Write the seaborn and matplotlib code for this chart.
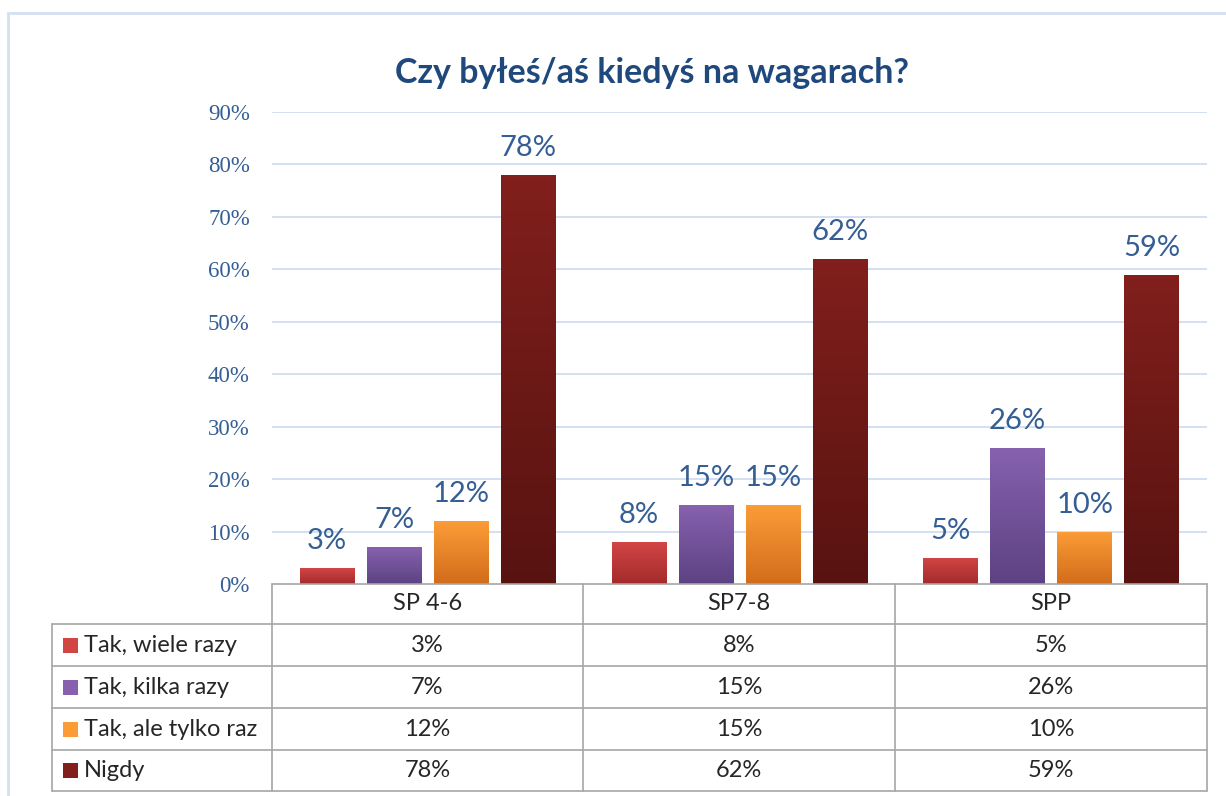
import numpy as np
import pandas as pd
import matplotlib as mpl
mpl.use("Agg")
import matplotlib.pyplot as plt
from matplotlib.colors import LinearSegmentedColormap
import seaborn as sns

# data
groups = ["SP 4-6", "SP7-8", "SPP"]
series = ["Tak, wiele razy", "Tak, kilka razy", "Tak, ale tylko raz", "Nigdy"]
wiele_razy = [3, 8, 5]
kilka_razy = [7, 15, 26]
tylko_raz = [12, 15, 10]
nigdy = [78, 62, 59]
y_ticks = [0, 10, 20, 30, 40, 50, 60, 70, 80, 90]
title = "Czy byłeś/aś kiedyś na wagarach?"

# (top, bottom) gradient colours per series
grad = {
    "Tak, wiele razy": ("#D24545", "#A32B2B"),
    "Tak, kilka razy": ("#8761AE", "#5C4283"),
    "Tak, ale tylko raz": ("#FB9C37", "#D26D1B"),
    "Nigdy": ("#811F1C", "#581311"),
}
navy = "#1F497D"
label_blue = "#345E94"
grid_blue = "#C9DAF0"
table_grey = "#A6A6A6"
text_dark = "#262626"

values = [wiele_razy, kilka_razy, tylko_raz, nigdy]
df = pd.DataFrame(
    [(g, s, v[i]) for s, v in zip(series, values) for i, g in enumerate(groups)],
    columns=["group", "series", "value"],
)

sns.set_theme(style="white")
plt.rcParams["font.family"] = ["Lato", "DejaVu Sans"]

W, H = 1226, 796
fig = plt.figure(figsize=(W / 100, H / 100), dpi=100)


def fx(px):
    return px / W


def fy(py):
    return 1 - py / H


# outer frame of the chart object
fig.add_artist(plt.Rectangle((fx(8), fy(900)), fx(1300), fy(13) - fy(900),
                             transform=fig.transFigure, fill=False,
                             edgecolor="#D3E0F2", lw=2))

left, right, top, bottom = 272, 1207, 112, 584
ax = fig.add_axes([fx(left), fy(bottom), fx(right - left), fy(top) - fy(bottom)])

sns.barplot(data=df, x="group", y="value", hue="series", order=groups,
            hue_order=series, palette={s: grad[s][1] for s in series},
            width=0.86, gap=0.18, ax=ax, legend=False, saturation=1)

ax.set_ylim(0, 90)
ax.set_xlim(-0.5, len(groups) - 0.5)
ax.set_yticks(y_ticks)
ax.set_yticklabels([f"{t}%" for t in y_ticks], family=["Liberation Serif"],
                   fontsize=16.5, color=label_blue)
ax.tick_params(axis="y", length=0, pad=16)
ax.set_xticks([])
ax.set_xlabel("")
ax.set_ylabel("")
for sp in ax.spines.values():
    sp.set_visible(False)
for t in y_ticks[1:]:
    ax.axhline(t, color=grid_blue, lw=1.2, zorder=0)

# vertical gradients on bars
for s, cont in zip(series, ax.containers):
    cmap = LinearSegmentedColormap.from_list(s, [grad[s][1], grad[s][0]])
    g = np.linspace(0, 1, 64).reshape(-1, 1)
    for p in cont.patches:
        x0, y0 = p.get_x(), p.get_y()
        w, h = p.get_width(), p.get_height()
        im = ax.imshow(g, cmap=cmap, origin="lower", aspect="auto",
                       extent=(x0, x0 + w, y0, y0 + h), zorder=3)
        im.set_clip_path(p)
        p.set_edgecolor("none")
    ax.bar_label(cont, labels=[f"{v:.0f}%" for v in cont.datavalues],
                 padding=10, fontsize=21, color=label_blue)
ax.set_xlim(-0.5, len(groups) - 0.5)
ax.set_ylim(0, 90)

fig.text(fx(652), fy(73), title, ha="center", va="center", fontsize=24.5,
         fontweight="bold", color=navy)

# data table under the plot
col_edges = [272, 583, 895, 1207]
row_edges = [584, 624, 666, 708, 750, 791]
tbl_left = 52


def hline(x0, x1, y):
    fig.add_artist(plt.Line2D([fx(x0), fx(x1)], [fy(y), fy(y)],
                              transform=fig.transFigure, color=table_grey, lw=1.2))


def vline(x, y0, y1):
    fig.add_artist(plt.Line2D([fx(x), fx(x)], [fy(y0), fy(y1)],
                              transform=fig.transFigure, color=table_grey, lw=1.2))


hline(col_edges[0], col_edges[-1], row_edges[0])
for y in row_edges[1:]:
    hline(tbl_left, col_edges[-1], y)
for x in col_edges:
    vline(x, row_edges[0], row_edges[-1])
vline(tbl_left, row_edges[1], row_edges[-1])

fs_tbl = 17
for i, g in enumerate(groups):
    cx = (col_edges[i] + col_edges[i + 1]) / 2
    cy = (row_edges[0] + row_edges[1]) / 2
    fig.text(fx(cx), fy(cy), g, ha="center", va="center", fontsize=fs_tbl, color=text_dark)

for r, (s, v) in enumerate(zip(series, values)):
    cy = (row_edges[r + 1] + row_edges[r + 2]) / 2
    key_h = 15
    key = plt.Rectangle((fx(63), fy(cy + key_h / 2)), fx(key_h), fy(cy - key_h / 2) - fy(cy + key_h / 2),
                        transform=fig.transFigure, facecolor=grad[s][0], edgecolor="none")
    fig.add_artist(key)
    fig.text(fx(84), fy(cy), s, ha="left", va="center", fontsize=fs_tbl, color=text_dark)
    for i in range(len(groups)):
        cx = (col_edges[i] + col_edges[i + 1]) / 2
        fig.text(fx(cx), fy(cy), f"{v[i]}%", ha="center", va="center",
                 fontsize=fs_tbl, color=text_dark)

fig.savefig("out.png", dpi=100)
